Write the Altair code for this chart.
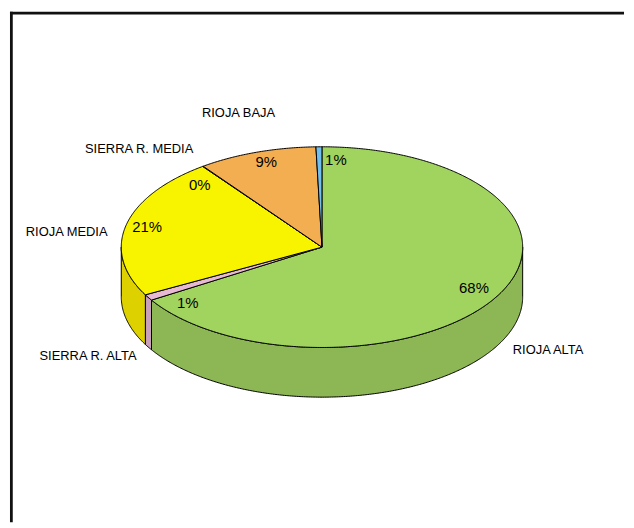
import numpy as np
import altair as alt

# Values
SLICES = ["RIOJA ALTA", "SIERRA R. ALTA", "RIOJA MEDIA", "SIERRA R. MEDIA", "RIOJA BAJA", "OTROS"]
DRAWN_SHARE = [66.15, 0.97, 22.75, 0.05, 9.6, 0.48]   # share of the circle as drawn (clockwise from 12 o'clock)
PCT_LABELS = ["68%", "1%", "21%", "0%", "9%", "1%"]
TOP_COLORS = ["#A0D45F", "#E8B9D2", "#F8F400", "#F8F400", "#F4AE52", "#72BFEE"]
SIDE_COLORS = ["#8DB654", "#C9A0BC", "#DDD100", "#DDD100", "#D49A48", "#629FC8"]

# Layout (pixels inside the chart)
W, H = 618, 514
CX, CY, RX, RY, DEPTH = 314, 237, 202, 101, 50
NAME_POS = [(541.5, 341), (78.5, 346.5), (57, 222), (130, 138), (230, 102.5)]
NAME_TXT = ["RIOJA ALTA", "SIERRA R. ALTA", "RIOJA MEDIA", "SIERRA R. MEDIA", "RIOJA BAJA"]
PCT_POS = [(467, 278), (179, 293), (138, 217), (191, 174), (258, 151.5), (328, 149)]


def rim(a0, a1, dy=0.0):
    n = max(2, int(abs(a1 - a0) * 2) + 2)
    t = np.radians(np.linspace(a0, a1, n))
    return [[float(CX + RX * np.sin(v)), float(CY - RY * np.cos(v) + dy)] for v in t]


def feature(key, coords):
    return {"type": "Feature", "properties": {"key": key},
            "geometry": {"type": "Polygon", "coordinates": [coords + [coords[0]]]}}


sides, tops = [], []
edges = np.concatenate([[0], np.cumsum(DRAWN_SHARE)]) * 3.6
for i, name in enumerate(SLICES):
    a0, a1 = float(edges[i]), float(edges[i + 1])
    tops.append(feature("top" + str(i), [[CX, CY]] + rim(a0, a1)))
    lo, hi = max(a0, 90.0), min(a1, 270.0)
    if hi > lo:
        sides.append(feature("side" + str(i), rim(lo, hi) + rim(hi, lo, DEPTH)))

keys = ["top" + str(i) for i in range(6)] + ["side" + str(i) for i in range(6)]
colors = TOP_COLORS + SIDE_COLORS
color_scale = alt.Scale(domain=keys, range=colors)


def shapes(features):
    return alt.Chart(alt.Data(values=features, format=alt.DataFormat(type="json"))).mark_geoshape(
        stroke="#000000", strokeWidth=1
    ).encode(fill=alt.Fill("properties.key:N", scale=color_scale, legend=None)).project(
        type="identity", scale=1, translate=[0, 0]
    )


def text_layer(labels, pos, size):
    rows = [{"t": t, "x": p[0], "y": p[1]} for t, p in zip(labels, pos)]
    return alt.Chart(alt.Data(values=rows)).mark_text(
        font="Liberation Sans", fontSize=size, color="#000000", align="center", baseline="middle"
    ).encode(x=alt.X("x:Q", scale=None, axis=None), y=alt.Y("y:Q", scale=None, axis=None), text="t:N")


frame = [{"x": 0, "x2": W, "y": 1.4, "y2": 1.4}, {"x": 1.4, "x2": 1.4, "y": 0, "y2": H}]
frame_layer = alt.Chart(alt.Data(values=frame)).mark_rule(color="#111111", strokeWidth=2.8).encode(
    x=alt.X("x:Q", scale=None, axis=None), x2="x2:Q",
    y=alt.Y("y:Q", scale=None, axis=None), y2="y2:Q",
)

chart = alt.layer(
    frame_layer,
    shapes(sides),
    shapes(tops),
    text_layer(NAME_TXT, NAME_POS, 13),
    text_layer(PCT_LABELS, PCT_POS, 15),
).properties(width=W, height=H, padding=0, background="#ffffff").configure_view(stroke=None)

chart.save("out.html", embed_options={"renderer": "svg", "actions": False})
